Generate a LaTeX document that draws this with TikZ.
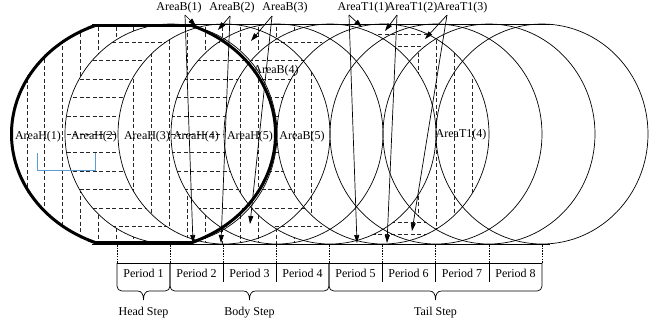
\documentclass[tikz,border=0pt]{standalone}
\usepackage{fontspec}
\setmainfont{Liberation Serif}
\usetikzlibrary{arrows.meta}
\definecolor{bluebr}{RGB}{91,155,213}
\newcommand\PT{(143.5,134) ellipse [x radius=133.5pt,y radius=118pt]}
\newcommand\PCa{(171,134) ellipse [x radius=106pt,y radius=110pt]}
\newcommand\PCb{(224,134) ellipse [x radius=106pt,y radius=110pt]}
\newcommand\PCc{(277,134) ellipse [x radius=106pt,y radius=110pt]}
\newcommand\PCd{(330,134) ellipse [x radius=106pt,y radius=110pt]}
\newcommand\PCe{(383,134) ellipse [x radius=106pt,y radius=110pt]}
\newcommand\PCf{(436,134) ellipse [x radius=106pt,y radius=110pt]}
\newcommand\PCg{(489,134) ellipse [x radius=106pt,y radius=110pt]}
\newcommand\PCh{(542,134) ellipse [x radius=106pt,y radius=110pt]}
\newcommand\PAll{(-20,-20) -- (680,-20) -- (680,350) -- (-20,350) -- cycle}
\newcommand\vh{\foreach \k in {-1,...,36} \draw[hatch] ({27+17.8*\k},20) -- ({27+17.8*\k},250);}
\newcommand\hh{\foreach \k in {1,...,11} \draw[hatch] (-5,{24+18.4*\k}) -- (660,{24+18.4*\k});}
\begin{document}
\begin{tikzpicture}[x=1pt,y=-1pt,
  hatch/.style={line width=0.7pt, dash pattern=on 4pt off 2.5pt, black!85},
  circ/.style={line width=0.7pt},
  dotline/.style={line width=0.6pt, dash pattern=on 1.5pt off 1.2pt},
  arr/.style={line width=0.7pt, -{Triangle[length=8pt,width=5pt]}},
  lbl/.style={font=\fontsize{12}{14}\selectfont, inner sep=0pt}]
\useasboundingbox (0,0) rectangle (653,327);
% ---------- hatching ----------
\begin{scope}
\clip (0,24) rectangle (653,244);
\begin{scope}\clip \PT; \clip \PAll \PCa; \vh \end{scope}
\begin{scope}\clip \PT; \clip \PCa; \clip \PAll \PCb; \hh \end{scope}
\begin{scope}\clip \PT; \clip \PCb; \clip \PAll \PCc; \vh \end{scope}
\begin{scope}\clip \PT; \clip \PCc; \clip \PAll \PCd; \hh \end{scope}
\begin{scope}\clip \PT; \clip \PCd; \clip \PAll \PCe; \vh \end{scope}
\begin{scope}\clip \PAll \PT; \clip (0,0) rectangle (322,327);
  \begin{scope}\clip \PCb; \clip \PAll \PCc; \vh \end{scope}
  \begin{scope}\clip \PCc; \clip \PAll \PCd; \vh \end{scope}
  \begin{scope}\clip \PCd; \clip \PAll \PCe; \hh \end{scope}
  \begin{scope}\clip \PCe; \clip (0,70) rectangle (653,222); \clip \PAll \PCf; \vh \end{scope}
\end{scope}
\begin{scope}\clip \PCe; \clip \PAll \PCd;
  \begin{scope}\clip \PAll \PCg;
    \foreach \yy in {34,46,222,234} \draw[hatch] (300,\yy) -- (520,\yy);
  \end{scope}
  \begin{scope}\clip \PCg; \vh \end{scope}
\end{scope}
\end{scope}
% ---------- circles ----------
\draw[circ] \PCa; \draw[circ] \PCb; \draw[circ] \PCc; \draw[circ] \PCd;
\draw[circ] \PCe; \draw[circ] \PCf; \draw[circ] \PCg; \draw[circ] \PCh;
\draw[circ] (92,24) -- (550,24);
\draw[circ] (92,244) -- (550,244);
\begin{scope}
\clip \PT; \clip (0,24) rectangle (653,244);
\draw[line width=6pt] \PT;
\draw[line width=6pt] (0,24) -- (653,24) (0,244) -- (653,244);
\end{scope}
% ---------- blue bracket ----------
\draw[bluebr, line width=0.8pt] (37,153) -- (37,170) -- (95,170) -- (95,153);
% ---------- labels ----------
\node[lbl] (h1) at (38,137) {AreaH(1)};
\node[lbl] (h2) at (94,137) {AreaH(2)};
\node[lbl] (h3) at (147,137) {AreaH(3)};
\node[lbl] (h4) at (196,137) {AreaH(4)};
\node[lbl] (h5) at (250,137) {AreaH(5)};
\node[lbl] (b5) at (302,137) {AreaB(5)};
\node[lbl] (b4) at (276,71) {AreaB(4)};
\node[lbl] (t4) at (461,135) {AreaT1(4)};
\node[lbl] (b1) at (179,8) {AreaB(1)};
\node[lbl] (b2) at (232,8) {AreaB(2)};
\node[lbl] (b3) at (285,8) {AreaB(3)};
\node[lbl] (t1) at (363,8) {AreaT1(1)};
\node[lbl] (t2) at (412,8) {AreaT1(2)};
\node[lbl] (t3) at (462,8) {AreaT1(3)};
% ---------- arrows ----------
\coordinate (b1s) at (185,15); \coordinate (b1a) at (196,26); \coordinate (b1b) at (193,243);
\coordinate (b2s) at (230,16); \coordinate (b2a) at (218,30); \coordinate (b2b) at (221,243);
\coordinate (b3s) at (272,16); \coordinate (b3a) at (251,41); \coordinate (b3b) at (250,224);
\coordinate (t1s) at (349,15); \coordinate (t1a) at (362,27); \coordinate (t1b) at (357,243);
\coordinate (t2s) at (397,15); \coordinate (t2a) at (385,31); \coordinate (t2b) at (387,243);
\coordinate (t3s) at (447,15); \coordinate (t3a) at (425,39); \coordinate (t3b) at (412,231);
\foreach \n in {b1,b2,b3,t1,t2,t3} {
  \draw[arr] (\n s) -- (\n a);
  \draw[arr] (\n s) -- (\n b);
}
% ---------- period table ----------
\foreach \x in {117,170,223,276,329,382,435,489,542} \draw[dotline] (\x,245) -- (\x,263);
\draw[circ] (117,263) -- (542,263);
\foreach \x in {223,276,382,435,489} \draw[circ] (\x,263) -- (\x,282);
\foreach \a/\m/\b in {117/143.5/170, 170/249.5/329, 329/435.5/542}
  \draw[circ] (\a,263) -- (\a,286) .. controls (\a,289) and ({\a+2},291) .. ({\a+5},291)
    -- ({\m-6},291) .. controls ({\m-2},291) and (\m,294) .. (\m,300)
    .. controls (\m,294) and ({\m+2},291) .. ({\m+6},291)
    -- ({\b-5},291) .. controls ({\b-2},291) and (\b,289) .. (\b,286) -- (\b,263);
\node[lbl] (p1) at (143.5,273) {Period 1};
\node[lbl] (p2) at (196.5,273) {Period 2};
\node[lbl] (p3) at (249.5,273) {Period 3};
\node[lbl] (p4) at (302.5,273) {Period 4};
\node[lbl] (p5) at (355.5,273) {Period 5};
\node[lbl] (p6) at (408.5,273) {Period 6};
\node[lbl] (p7) at (462,273) {Period 7};
\node[lbl] (p8) at (515.5,273) {Period 8};
\node[lbl] (hs) at (143.5,313) {Head Step};
\node[lbl] (bs) at (249.5,313) {Body Step};
\node[lbl] (ts) at (435.5,313) {Tail Step};
\end{tikzpicture}
\end{document}
